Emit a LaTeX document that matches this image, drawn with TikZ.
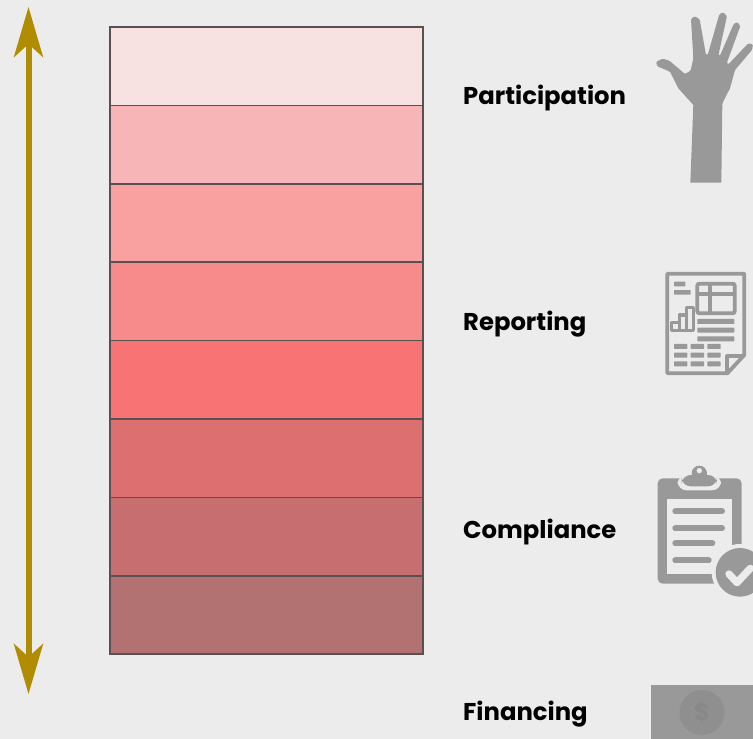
\documentclass[tikz,border=0pt]{standalone}
\usepackage{fontspec}
\setmainfont{Poppins}
\usetikzlibrary{positioning, arrows.meta}
\definecolor{pagebg}{HTML}{ECECEC}
\definecolor{icongrey}{HTML}{999999}
\definecolor{arrowgold}{HTML}{AF8C00}
\definecolor{bandedge}{HTML}{5A5050}

\begin{document}
\begin{tikzpicture}[x=1pt, y=-1pt,
    band/.style={draw=bandedge, line width=1.5pt, minimum width=313pt, minimum height=78.4pt, inner sep=0pt, outer sep=0pt},
    rowlabel/.style={anchor=base west, inner sep=0pt, font=\bfseries\fontsize{24.3}{26}\selectfont},
    iconline/.style={draw=icongrey, line width=3.8pt},
    iconbar/.style={fill=icongrey, rounded corners=0.6pt}]
    \fill[pagebg] (0,0) rectangle (753,739);
    \useasboundingbox (0,0) rectangle (753,739);

    % stacked bands
    \node[band, fill={rgb,255:red,247;green,225;blue,225}, anchor=north west] (b1) at (110,27) {};
    \node[band, fill={rgb,255:red,248;green,181;blue,183}, below=0pt of b1] (b2) {};
    \node[band, fill={rgb,255:red,249;green,160;blue,160}, below=0pt of b2] (b3) {};
    \node[band, fill={rgb,255:red,247;green,138;blue,138}, below=0pt of b3] (b4) {};
    \node[band, fill={rgb,255:red,248;green,116;blue,116}, below=0pt of b4] (b5) {};
    \node[band, fill={rgb,255:red,221;green,111;blue,112}, below=0pt of b5] (b6) {};
    \node[band, fill={rgb,255:red,199;green,110;blue,112}, below=0pt of b6] (b7) {};
    \node[band, fill={rgb,255:red,178;green,114;blue,114}, below=0pt of b7] (b8) {};

    % double arrow
    \coordinate (top) at (28.5,7);
    \coordinate (bottom) at (28.5,694);
    \draw[arrowgold, line width=6pt, {Stealth[length=50pt, width=29pt, inset=13pt]}-{Stealth[length=50pt, width=29pt, inset=13pt]}] (top) -- (bottom);

    % labels
    \node[rowlabel] (participation) at (463,104) {Participation};
    \node[rowlabel] (reporting) at (463,330) {Reporting};
    \node[rowlabel] (compliance) at (463,538) {Compliance};
    \node[rowlabel] (financing) at (463,720) {Financing};

    % hand
    \begin{scope}[shift={(640,0)}, x=0.3333pt, y=-0.3333pt]
        \fill[icongrey, rounded corners=1.2pt] (151,548) [sharp corners] -- (160,315) [rounded corners=1.2pt] -- (115,265) -- (90,215) -- (52,199) -- (48,186) -- (68,176) -- (88,182) -- (135,222) -- (152,212) -- (160,175) -- (153,56) -- (165,49) -- (179,58) -- (198,165) -- (203,165) -- (238,43) -- (250,37) -- (261,48) -- (235,167) -- (240,167) -- (281,72) -- (292,66) -- (301,78) -- (260,190) -- (265,193) -- (325,130) -- (339,133) -- (336,150) -- (285,210) -- (270,265) -- (247,310) [sharp corners] -- (244,548) -- cycle;
    \end{scope}

    % report
    \begin{scope}[shift={(650,260)}, x=0.3333pt, y=-0.3333pt]
        \draw[iconline, line join=round] (52,41) -- (283,41) -- (283,285) -- (232,340) -- (52,340) -- cycle;
        \draw[iconline, line join=round] (232,340) -- (232,288) -- (283,288);
        \fill[iconbar] (72,65) rectangle (106,79);
        \fill[iconbar] (72,90) rectangle (122,104);
        \draw[iconline, rounded corners=2pt] (142,71) rectangle (254,160);
        \draw[icongrey, line width=3.2pt] (180,71) -- (180,160) (142,102) -- (254,102);
        \draw[icongrey, line width=3.2pt, line join=round] (65,212) -- (65,187) -- (88,187) -- (88,165) -- (110,165) -- (110,143) -- (130,143) -- (130,212) -- cycle;
        \draw[icongrey, line width=3.2pt] (88,187) -- (88,212) (110,165) -- (110,212);
        \foreach \rowy in {177,203,229}
            \fill[iconbar] (142,\rowy) rectangle ++(111,15);
        \foreach \rowy in {252,278,304} {
            \fill[iconbar] (72,\rowy) rectangle ++(40,15);
            \fill[iconbar] (122,\rowy) rectangle ++(40,15);
            \fill[iconbar] (172,\rowy) rectangle ++(40,15);
        }
    \end{scope}

    % clipboard
    \begin{scope}[shift={(645,455)}, x=0.3333pt, y=-0.3333pt]
        \fill[icongrey, rounded corners=5pt] (38,70) rectangle (290,386);
        \fill[pagebg] (65,133) rectangle (262,358);
        \fill[pagebg, rounded corners=9pt] (98,60) rectangle (228,106);
        \fill[icongrey, rounded corners=9pt] (110,60) rectangle (216,94);
        \fill[icongrey] (163,55) circle[radius=23];
        \fill[pagebg] (163,47) circle[radius=8];
        \foreach \barend/\rowy in {231/169, 231/220, 202/265, 191/316}
            \draw[icongrey, line width=6pt, line cap=round] (91,\rowy) -- (\barend,\rowy);
        \fill[pagebg] (285,352) circle[radius=85];
        \fill[icongrey] (285,352) circle[radius=73];
        \draw[pagebg, line width=7.3pt, line cap=round, line join=round] (252,357) -- (276,383) -- (316,340);
    \end{scope}

    % banknote
    \fill[icongrey] (651,685) rectangle (753,739);
    \node[circle, fill={rgb,255:red,143;green,143;blue,143}, minimum size=45pt, inner sep=0pt, font=\bfseries\fontsize{24}{24}\selectfont, text={rgb,255:red,136;green,136;blue,136}] (coin) at (702,712.5) {\$};
\end{tikzpicture}
\end{document}
